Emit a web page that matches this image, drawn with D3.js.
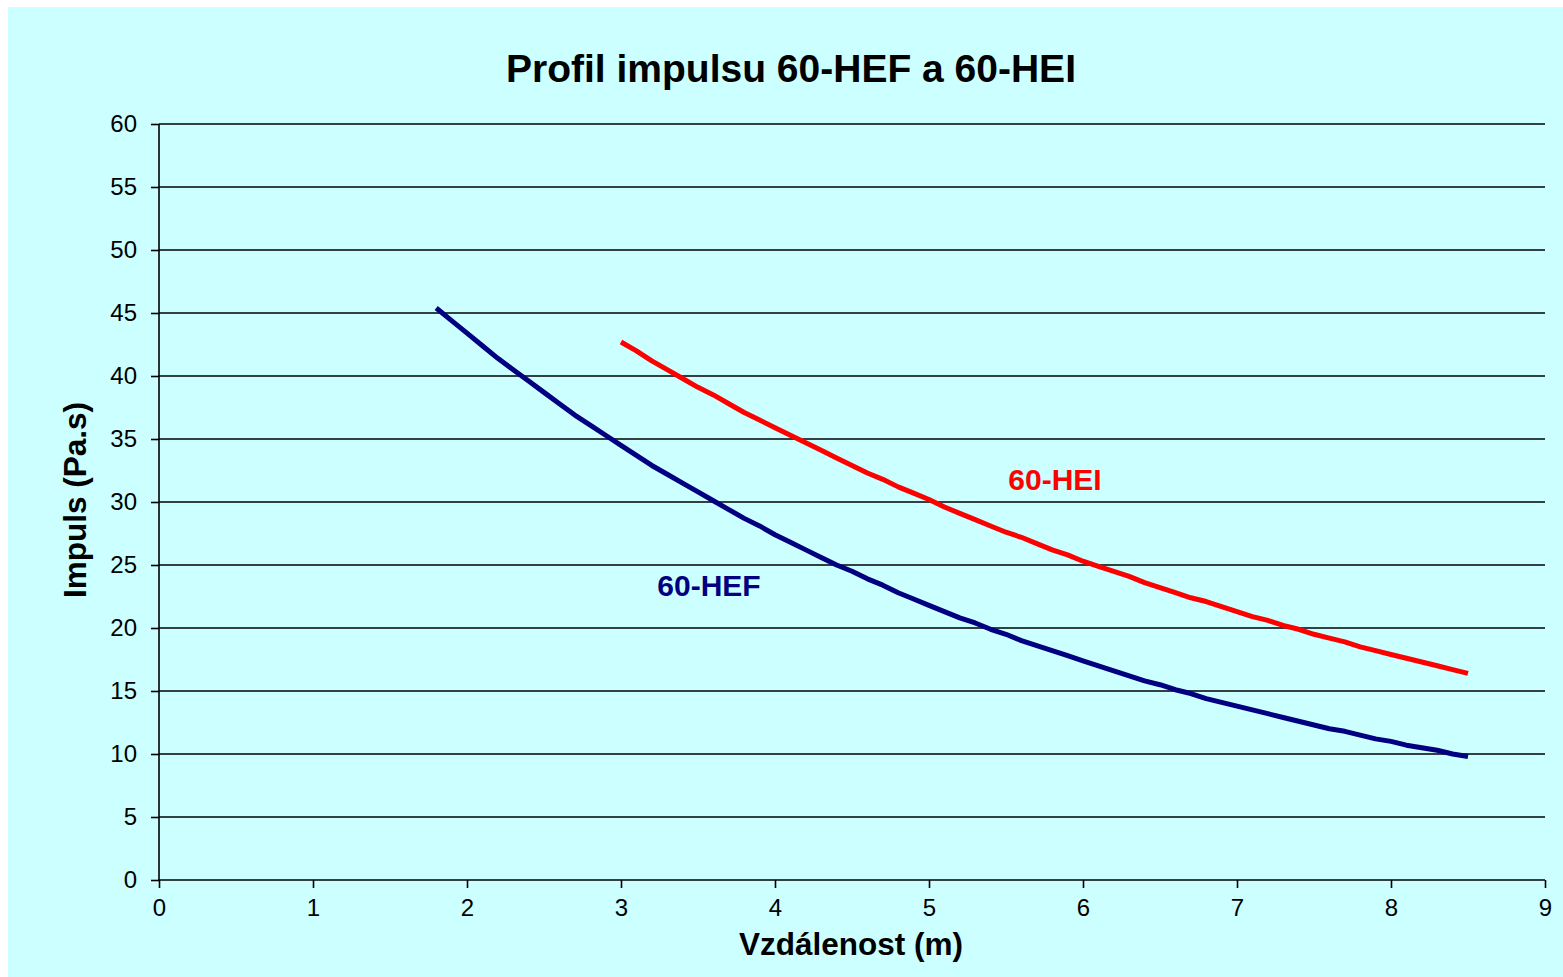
<!DOCTYPE html>
<html>
<head>
<meta charset="utf-8">
<script src="https://cdn.jsdelivr.net/npm/d3@7"></script>
<style>
  html, body { margin: 0; padding: 0; background: #ffffff; }
  svg { display: block; }
  text { font-family: "Liberation Sans", Arial, sans-serif; }
</style>
</head>
<body>
<script>
// ---- data ----
const chartTitle = "Profil impulsu 60-HEF a 60-HEI";
const xTitle = "Vzdálenost (m)";
const yTitle = "Impuls (Pa.s)";
const xTicks = [0, 1, 2, 3, 4, 5, 6, 7, 8, 9];
const yTicks = [0, 5, 10, 15, 20, 25, 30, 35, 40, 45, 50, 55, 60];

const hefX = [1.8,1.9,2.0,2.1,2.2,2.3,2.4,2.5,2.6,2.7,2.8,2.9,3.0,3.1,3.2,3.3,3.4,3.5,3.6,3.7,3.8,3.9,
              4.0,4.1,4.2,4.3,4.4,4.5,4.6,4.7,4.8,4.9,5.0,5.1,5.2,5.3,5.4,5.5,5.6,5.7,5.8,5.9,
              6.0,6.1,6.2,6.3,6.4,6.5,6.6,6.7,6.8,6.9,7.0,7.1,7.2,7.3,7.4,7.5,7.6,7.7,7.8,7.9,
              8.0,8.1,8.2,8.3,8.4,8.5];
const hefY = [45.4,44.4,43.4,42.4,41.4,40.5,39.6,38.7,37.8,36.9,36.1,35.3,34.5,33.7,32.9,32.2,31.5,30.8,30.1,29.4,28.7,28.1,
              27.4,26.8,26.2,25.6,25.0,24.5,23.9,23.4,22.8,22.3,21.8,21.3,20.8,20.4,19.9,19.5,19.0,18.6,18.2,17.8,
              17.4,17.0,16.6,16.2,15.8,15.5,15.1,14.8,14.4,14.1,13.8,13.5,13.2,12.9,12.6,12.3,12.0,11.8,11.5,11.2,
              11.0,10.7,10.5,10.3,10.0,9.8];

const heiX = [3.0,3.1,3.2,3.3,3.4,3.5,3.6,3.7,3.8,3.9,4.0,4.1,4.2,4.3,4.4,4.5,4.6,4.7,4.8,4.9,
              5.0,5.1,5.2,5.3,5.4,5.5,5.6,5.7,5.8,5.9,6.0,6.1,6.2,6.3,6.4,6.5,6.6,6.7,6.8,6.9,
              7.0,7.1,7.2,7.3,7.4,7.5,7.6,7.7,7.8,7.9,8.0,8.1,8.2,8.3,8.4,8.5];
const heiY = [42.7,42.0,41.2,40.5,39.8,39.1,38.5,37.8,37.1,36.5,35.9,35.3,34.7,34.1,33.5,32.9,32.3,31.8,31.2,30.7,
              30.2,29.6,29.1,28.6,28.1,27.6,27.2,26.7,26.2,25.8,25.3,24.9,24.5,24.1,23.6,23.2,22.8,22.4,22.1,21.7,
              21.3,20.9,20.6,20.2,19.9,19.5,19.2,18.9,18.5,18.2,17.9,17.6,17.3,17.0,16.7,16.4];

const seriesNames = ["60-HEF", "60-HEI"];

// ---- layout ----
const W = 1563, H = 977;
const plot = { left: 159, right: 1545, top: 124, bottom: 880 };

const svg = d3.select("body").append("svg")
  .attr("width", W).attr("height", H);

svg.append("rect").attr("x", 8).attr("y", 7)
  .attr("width", W - 8).attr("height", H - 7)
  .attr("fill", "#ccffff");

const x = d3.scaleLinear().domain([0, 9]).range([plot.left, plot.right]);
const y = d3.scaleLinear().domain([0, 60]).range([plot.bottom, plot.top]);

// gridlines
svg.append("g").selectAll("line").data(yTicks.filter(d => d > 0)).join("line")
  .attr("x1", plot.left).attr("x2", plot.right)
  .attr("y1", d => y(d)).attr("y2", d => y(d))
  .attr("stroke", "#000").attr("stroke-width", 1.6);

// axes
const xAxis = svg.append("g").attr("transform", `translate(0,${plot.bottom})`)
  .call(d3.axisBottom(x).tickValues(xTicks).tickSize(8).tickPadding(11).tickFormat(d3.format("d")));
const yAxis = svg.append("g").attr("transform", `translate(${plot.left},0)`)
  .call(d3.axisLeft(y).tickValues(yTicks).tickSize(8).tickPadding(14).tickFormat(d3.format("d")));

[xAxis, yAxis].forEach(g => {
  g.select(".domain").attr("stroke", "#000").attr("stroke-width", 1.6);
  g.selectAll(".tick line").attr("stroke", "#000").attr("stroke-width", 1.6);
  g.selectAll(".tick text").attr("fill", "#000")
    .style("font-family", "'Liberation Sans', Arial, sans-serif").style("font-size", "24px");
});
xAxis.select(".domain").attr("d", `M${plot.left},0H${plot.right}`);
yAxis.select(".domain").attr("d", `M0,${plot.bottom}V${plot.top}`);

// lines
const line = d3.line().x(d => x(d[0])).y(d => y(d[1]));
const hef = hefX.map((v, i) => [v, hefY[i]]);
const hei = heiX.map((v, i) => [v, heiY[i]]);

svg.append("path").datum(hef).attr("d", line)
  .attr("fill", "none").attr("stroke", "#000080").attr("stroke-width", 5)
  .attr("stroke-linejoin", "round");
svg.append("path").datum(hei).attr("d", line)
  .attr("fill", "none").attr("stroke", "#ff0000").attr("stroke-width", 5)
  .attr("stroke-linejoin", "round");

// series labels
svg.append("text").attr("x", 709).attr("y", 596).attr("text-anchor", "middle")
  .attr("font-weight", "bold").attr("font-size", 30).attr("fill", "#000080").text(seriesNames[0]);
svg.append("text").attr("x", 1055).attr("y", 490).attr("text-anchor", "middle")
  .attr("font-weight", "bold").attr("font-size", 30).attr("fill", "#ff0000").text(seriesNames[1]);

// titles
svg.append("text").attr("x", 791).attr("y", 82).attr("text-anchor", "middle")
  .attr("font-weight", "bold").attr("font-size", 39).attr("fill", "#000").text(chartTitle);
svg.append("text").attr("x", 851).attr("y", 955).attr("text-anchor", "middle")
  .attr("font-weight", "bold").attr("font-size", 31.5).attr("fill", "#000").text(xTitle);
svg.append("text").attr("transform", "translate(86,500) rotate(-90)").attr("text-anchor", "middle")
  .attr("font-weight", "bold").attr("font-size", 31.5).attr("fill", "#000").text(yTitle);
</script>
</body>
</html>
